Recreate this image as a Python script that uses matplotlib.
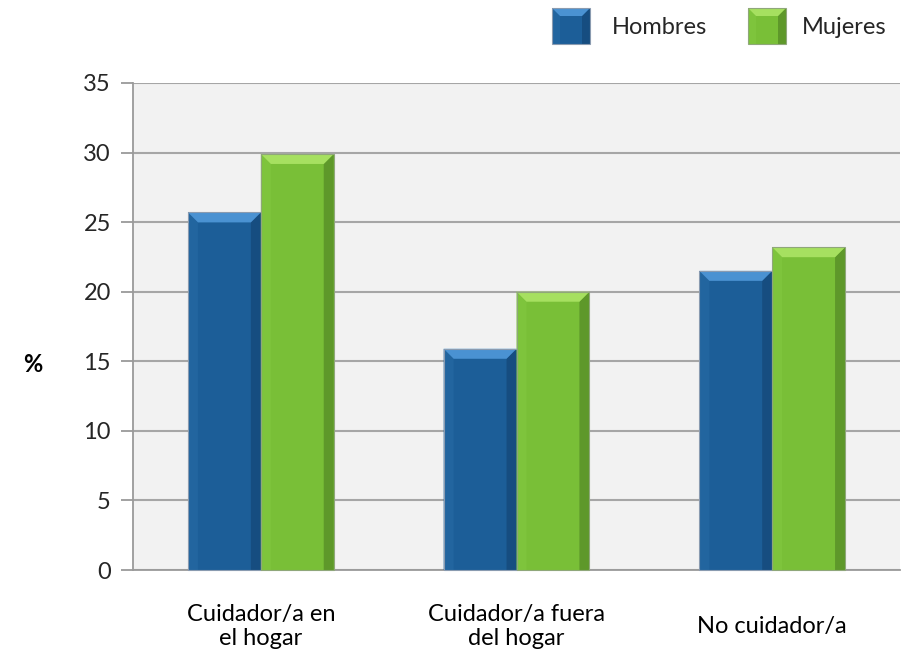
import matplotlib
matplotlib.use("Agg")
import matplotlib.pyplot as plt
from matplotlib.patches import Polygon, Rectangle
from matplotlib.transforms import IdentityTransform, blended_transform_factory
import numpy as np

plt.rcParams["font.family"] = ["Lato", "DejaVu Sans"]

categories = ["Cuidador/a en\nel hogar", "Cuidador/a fuera\ndel hogar", "No cuidador/a"]
series_names = ["Hombres", "Mujeres"]
hombres = [25.7, 15.9, 21.5]
mujeres = [29.9, 20.0, 23.2]
yticks = [0, 5, 10, 15, 20, 25, 30, 35]

# main / top bevel / left bevel / right bevel / edge
blue = ["#1c5e98", "#4a92d2", "#22659f", "#164d80", "#8a9bb0"]
green = ["#79bf37", "#a6e060", "#7ec43c", "#5e982a", "#8fa77a"]

fig = plt.figure(figsize=(9.13, 6.54), dpi=100)
ax = fig.add_axes([0.1457, 0.1284, 0.8401, 0.7447])
ax.set_facecolor("#f2f2f2")

x = np.arange(len(categories))
w = 0.285
b1 = ax.bar(x - w / 2, hombres, w, color=blue[0], zorder=3)
b2 = ax.bar(x + w / 2, mujeres, w, color=green[0], zorder=3)

ax.set_xlim(-0.5, len(categories) - 0.5)
ax.set_ylim(0, 35)
ax.set_yticks(yticks)
ax.yaxis.grid(True, color="#a6a6a6", linewidth=1.5, zorder=0)
ax.set_axisbelow(True)

for side in ["top", "right"]:
    ax.spines[side].set_visible(False)
for side in ["left", "bottom"]:
    ax.spines[side].set_color("#9a9a9a")
    ax.spines[side].set_linewidth(1.3)

ax.tick_params(axis="y", length=9, width=1.3, color="#9a9a9a", pad=7,
               labelsize=17, labelcolor="#262626")
ax.set_xticks(x)
ax.set_xticklabels([])
ax.tick_params(axis="x", length=0)

# category labels, centred vertically below the axis
trans = blended_transform_factory(ax.transData, ax.transAxes)
for xi, lab in zip(x, categories):
    ax.text(xi, -0.116, lab, transform=trans, ha="center", va="center",
            fontsize=17, color="#000000", linespacing=1.2)

fig.text(0.036, 0.443, "%", fontsize=17, fontweight="bold", ha="center", va="center")


def bevel(x0, y0, x1, y1, cols, bsz=10):
    """Draw a beveled box in display (pixel) coordinates."""
    tr = IdentityTransform()
    top = [(x0, y1), (x1, y1), (x1 - bsz, y1 - bsz), (x0 + bsz, y1 - bsz)]
    left = [(x0, y0), (x0, y1), (x0 + bsz, y1 - bsz), (x0 + bsz, y0)]
    right = [(x1, y0), (x1, y1), (x1 - bsz, y1 - bsz), (x1 - bsz, y0)]
    polys = [Polygon(left, closed=True, facecolor=cols[2], edgecolor="none", transform=tr, zorder=4),
             Polygon(right, closed=True, facecolor=cols[3], edgecolor="none", transform=tr, zorder=4),
             Polygon(top, closed=True, facecolor=cols[1], edgecolor="none", transform=tr, zorder=4),
             Polygon([(x0, y0), (x0, y1), (x1, y1), (x1, y0)], closed=True, facecolor="none",
                     edgecolor=cols[4], linewidth=0.8, transform=tr, zorder=5)]
    for p in polys:
        fig.add_artist(p)


fig.canvas.draw()
for bars, cols in [(b1, blue), (b2, green)]:
    for patch in bars:
        bb = patch.get_window_extent()
        bevel(bb.x0, bb.y0, bb.x1, bb.y1, cols)

# legend
H = 654
legend_items = [(552, blue, series_names[0], 612), (748, green, series_names[1], 802)]
for lx, cols, name, tx in legend_items:
    fig.add_artist(Rectangle((lx, H - 44), 38, 36, facecolor=cols[0], edgecolor="none",
                             transform=IdentityTransform(), zorder=3))
    bevel(lx, H - 44, lx + 38, H - 8, cols, bsz=8)
    fig.text(tx / 913, 1 - 27 / H, name, fontsize=17, color="#262626", ha="left", va="center")

fig.savefig("out.png", dpi=100)
